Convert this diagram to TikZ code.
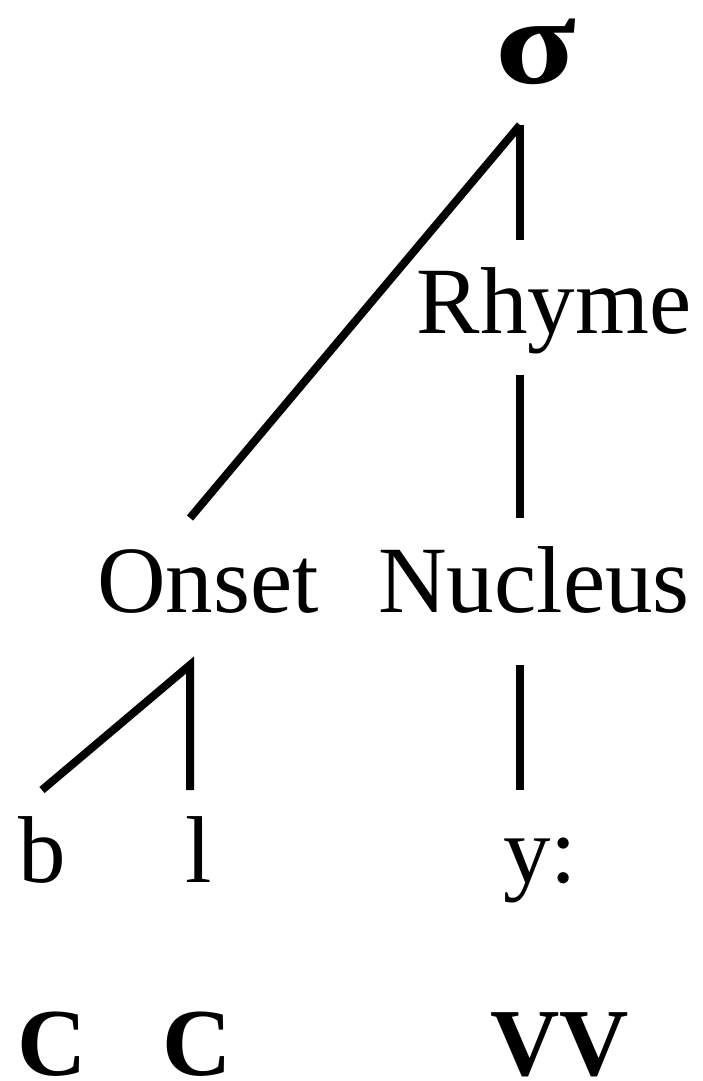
\documentclass[tikz,border=0pt]{standalone}
\usepackage{fontspec}
\setmainfont{Liberation Serif}
\usepackage{tikz}

\tikzset{
  lbl/.style={inner sep=0pt, anchor=base,
    font=\fontsize{47.5}{50}\selectfont},
  cv/.style={lbl, font=\fontsize{48}{50}\selectfont\bfseries},
  branch/.style={line width=4pt}
}

\begin{document}
\begin{tikzpicture}[x=0.5pt, y=-0.5pt]
  \useasboundingbox (0,0) rectangle (702,1081);

  % tree labels
  \node[lbl, font=\fontsize{62}{62}\selectfont\bfseries] (syl) at (536,84)
    {\scalebox{1.2}[1]{σ}};
  \node[lbl] (rhyme) at (554,333) {Rhyme};
  \node[lbl] (onset) at (208,612) {Onset};
  \node[lbl] (nucleus) at (534,612) {Nucleus};
  \node[lbl] (segb) at (42,882) {b};
  \node[lbl] (segl) at (199,882) {l};
  \node[lbl] (segy) at (540,882) {y:};
  \node[cv] (cb) at (52,1075) {C};
  \node[cv] (cl) at (197,1075) {C};
  \node[cv] (cy) at (560,1075) {VV};

  % branch ends
  \coordinate (sylFoot) at (520,125);
  \coordinate (rhymeTop) at (520,240);
  \coordinate (rhymeFoot) at (520,375);
  \coordinate (onsetTop) at (190,518);
  \coordinate (nucTop) at (520,518);
  \coordinate (onsetFoot) at (190,665);
  \coordinate (nucFoot) at (520,665);
  \coordinate (bTop) at (42,790);
  \coordinate (lTop) at (190,790);
  \coordinate (yTop) at (520,790);

  \draw[branch] (sylFoot) -- (onsetTop);
  \draw[branch] (sylFoot) -- (rhymeTop);
  \draw[branch] (rhymeFoot) -- (nucTop);
  \draw[branch] (bTop) -- (onsetFoot) -- (lTop);
  \draw[branch] (nucFoot) -- (yTop);
\end{tikzpicture}
\end{document}
